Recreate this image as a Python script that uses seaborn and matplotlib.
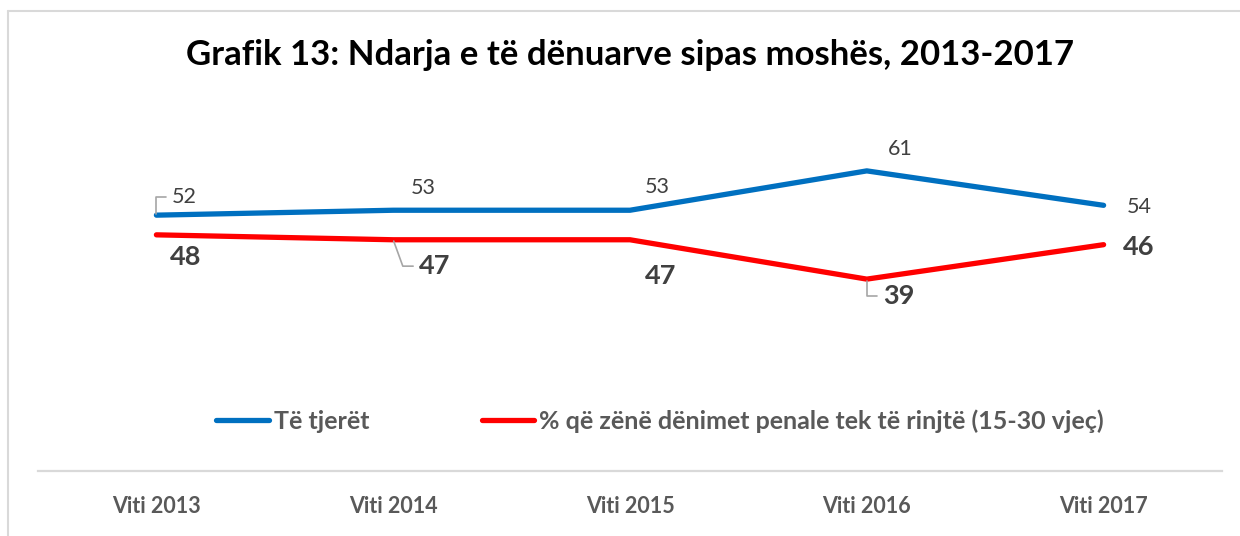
import pandas as pd
import seaborn as sns
import matplotlib.pyplot as plt
from matplotlib.lines import Line2D

# data
years = ["Viti 2013", "Viti 2014", "Viti 2015", "Viti 2016", "Viti 2017"]
te_tjeret = [52, 53, 53, 61, 54]
te_rinjte = [48, 47, 47, 39, 46]
series_names = ["Të tjerët", "% që zënë dënimet penale tek të rinjtë (15-30 vjeç)"]

# label offsets in points (text position relative to the point)
blue_off = [(20, 13), (22, 16), (20, 17), (24, 16), (26, -1)]
red_off = [(21, -16), (30, -19), (22, -26), (23, -12), (25, -2)]
# leader line angle at the point (None = no leader)
blue_leader = [90, None, None, None, None]
red_leader = [None, 110, None, 90, None]

df = pd.DataFrame({"Viti": years * 2,
                   "Vlera": te_tjeret + te_rinjte,
                   "Seria": [series_names[0]] * 5 + [series_names[1]] * 5})

sns.set_style("white")
plt.rcParams["font.family"] = ["Lato", "DejaVu Sans"]

fig = plt.figure(figsize=(12.4, 5.36), dpi=100)
ax = fig.add_axes([38 / 1240, 1 - 471 / 536, (1222 - 38) / 1240, 369 / 536])

palette = {series_names[0]: "#0070C0", series_names[1]: "#FF0000"}
sns.lineplot(data=df, x="Viti", y="Vlera", hue="Seria", palette=palette,
             linewidth=3.8, sort=False, ax=ax, legend=False,
             solid_capstyle="round", solid_joinstyle="round")

ax.set_xlim(-0.5, 4.5)
ax.set_ylim(0, 75)
ax.set_yticks([])
ax.set_xlabel("")
ax.set_ylabel("")
for s in ["top", "right", "left"]:
    ax.spines[s].set_visible(False)
ax.spines["bottom"].set_color("#D9D9D9")
ax.spines["bottom"].set_linewidth(1.6)
ax.tick_params(axis="x", length=0, pad=18)
for lbl in ax.get_xticklabels():
    lbl.set_fontsize(15.5)
    lbl.set_fontweight("bold")
    lbl.set_color("#595959")

gray = "#A6A6A6"


def leader(angle):
    return dict(arrowstyle="-", color=gray, lw=1.2, shrinkA=2, shrinkB=1, relpos=(0, 0.5),
                connectionstyle=f"angle,angleA=0,angleB={angle},rad=0")


for i, v in enumerate(te_tjeret):
    kw = {"arrowprops": leader(blue_leader[i])} if blue_leader[i] else {}
    ax.annotate(str(v), xy=(i, v), xytext=blue_off[i], textcoords="offset points",
                ha="center", va="center", fontsize=15.5, color="#404040", **kw)
for i, v in enumerate(te_rinjte):
    kw = {"arrowprops": leader(red_leader[i])} if red_leader[i] else {}
    ax.annotate(str(v), xy=(i, v), xytext=red_off[i], textcoords="offset points",
                ha="center", va="center", fontsize=19.5, fontweight="bold", color="#404040", **kw)

handles = [Line2D([], [], color=palette[n], lw=3.8, solid_capstyle="round") for n in series_names]
leg = fig.legend(handles, series_names, loc="center", bbox_to_anchor=(660 / 1240, 1 - 421 / 536),
                 ncol=2, frameon=False, handlelength=2.1, handletextpad=0.2, columnspacing=4.5,
                 prop={"size": 18, "weight": "bold"})
for t in leg.get_texts():
    t.set_color("#595959")

fig.text(630 / 1240, 1 - 55 / 536, "Grafik 13: Ndarja e të dënuarve sipas moshës, 2013-2017",
         ha="center", va="center", fontsize=25, fontweight="bold", color="black")

# chart border (left and top visible)
fig.add_artist(Line2D([8 / 1240, 8 / 1240], [0, 1 - 11 / 536], color="#D9D9D9", lw=1.5,
                      transform=fig.transFigure))
fig.add_artist(Line2D([8 / 1240, 1], [1 - 11 / 536, 1 - 11 / 536], color="#D9D9D9", lw=1.5,
                      transform=fig.transFigure))

fig.savefig("out.png", dpi=100)
